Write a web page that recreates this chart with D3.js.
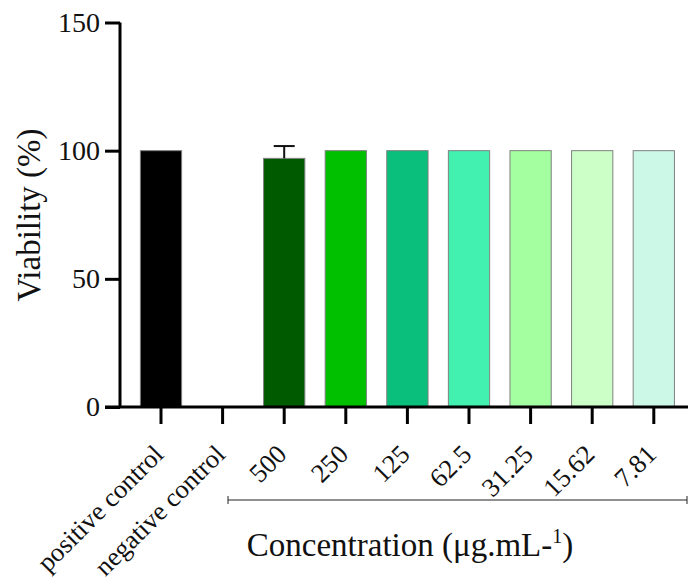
<!DOCTYPE html>
<html>
<head>
<meta charset="utf-8">
<script src="https://cdn.jsdelivr.net/npm/d3@7"></script>
<style>
body { margin: 0; background: #fff; }
svg text { font-family: "Liberation Serif", "Times New Roman", serif; fill: #111; }
</style>
</head>
<body>
<svg id="chart" width="689" height="581"></svg>
<script>
const categories = ["positive control", "negative control", "500", "250", "125", "62.5", "31.25", "15.62", "7.81"];
const viability = [100, 0, 97, 100, 100, 100, 100, 100, 100];
const errors = [0, 0, 4.8, 0, 0, 0, 0, 0, 0];
const colors = ["#000000", "#ffffff", "#005a00", "#00c000", "#0abf7b", "#42f0b0", "#a4ffa0", "#ccffc8", "#ccf8e8"];
const yTicks = [0, 50, 100, 150];

const svg = d3.select("#chart");
const x = d3.scaleBand().domain(categories).range([130.2, 684.6]).paddingInner(0.33).paddingOuter(0.165);
const y = d3.scaleLinear().domain([0, 150]).range([407, 22.5]);

// bars
svg.append("g").selectAll("rect").data(categories).join("rect")
  .attr("x", d => x(d))
  .attr("width", x.bandwidth())
  .attr("y", (d, i) => y(viability[i]))
  .attr("height", (d, i) => y(0) - y(viability[i]))
  .attr("fill", (d, i) => colors[i])
  .attr("stroke", "#808080")
  .attr("stroke-width", 1);

// error bars
categories.forEach((c, i) => {
  if (errors[i] > 0) {
    const cx = x(c) + x.bandwidth() / 2;
    svg.append("line").attr("x1", cx).attr("x2", cx)
      .attr("y1", y(viability[i])).attr("y2", y(viability[i] + errors[i]))
      .attr("stroke", "#111").attr("stroke-width", 2);
    svg.append("line").attr("x1", cx - 10.5).attr("x2", cx + 10.5)
      .attr("y1", y(viability[i] + errors[i])).attr("y2", y(viability[i] + errors[i]))
      .attr("stroke", "#111").attr("stroke-width", 2);
  }
});

// y axis
const yAxis = d3.axisLeft(y).tickValues(yTicks).tickSize(15).tickPadding(5).tickFormat(d3.format("d"));
const gy = svg.append("g").attr("transform", "translate(120,0)").call(yAxis);
gy.attr("font-size", null).attr("font-family", null);
gy.select(".domain").attr("stroke", "#000").attr("stroke-width", 3).attr("d", `M0,${y(150)}V${y(0)}`);
gy.selectAll(".tick line").attr("stroke", "#000").attr("stroke-width", 3);
gy.selectAll(".tick text").style("font-size", "28px").attr("fill", "#111");

// x axis
const xAxis = d3.axisBottom(x).tickSize(17).tickSizeOuter(0);
const gx = svg.append("g").attr("transform", `translate(0,${y(0)})`).call(xAxis);
gx.attr("font-size", null).attr("font-family", null);
gx.select(".domain").attr("stroke", "#000").attr("stroke-width", 3).attr("d", "M105,0H688");
gx.selectAll(".tick line").attr("stroke", "#000").attr("stroke-width", 3);
gx.selectAll(".tick text")
  .style("font-size", "26.5px").attr("fill", "#111")
  .attr("text-anchor", "end")
  .attr("dy", null).attr("y", null)
  .attr("transform", "translate(4,49) rotate(-45)");

// bracket under concentrations
const bx0 = 228, bx1 = 687, by = 500;
svg.append("line").attr("x1", bx0).attr("x2", bx1).attr("y1", by).attr("y2", by).attr("stroke", "#222").attr("stroke-width", 1);
[bx0, bx1].forEach(bx => svg.append("line").attr("x1", bx).attr("x2", bx).attr("y1", by - 4).attr("y2", by + 4).attr("stroke", "#222").attr("stroke-width", 1));

// x title
const xt = svg.append("text").attr("x", 410).attr("y", 556).attr("text-anchor", "middle").style("font-size", "33px");
xt.append("tspan").text("Concentration (μg.mL-");
xt.append("tspan").attr("dy", -13).style("font-size", "20px").text("1");
xt.append("tspan").attr("dy", 13).text(")");

// y title
svg.append("text").attr("transform", "translate(40,215) rotate(-90)").attr("text-anchor", "middle").style("font-size", "33px").text("Viability (%)");
</script>
</body>
</html>
